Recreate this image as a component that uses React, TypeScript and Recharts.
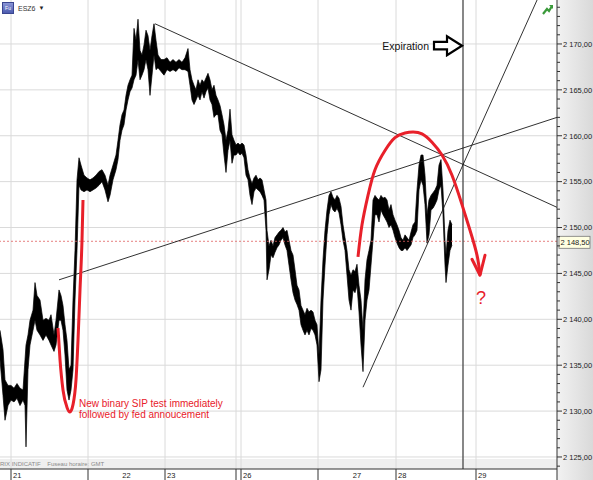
import React from 'react';
import {
  ComposedChart,
  Area,
  Line,
  XAxis,
  YAxis,
  CartesianGrid,
  ReferenceLine,
  ReferenceDot,
} from 'recharts';

const FONT = '"Liberation Sans", Arial, sans-serif';

// ---- price bars (slot index, high, low) ----
const slots = [
  0, 3, 5, 8, 11, 14, 17, 20, 23, 25,
  26, 28, 30, 33, 35, 37, 40, 43, 46, 49,
  51, 54, 56, 59, 61, 63, 65, 67, 69, 71,
  73, 75, 77, 79, 81, 84, 87, 90, 93, 96,
  99, 102, 105, 108, 110, 113, 116, 118, 120, 122,
  124, 126, 128, 130, 132, 134, 136, 138, 140, 142,
  144, 146, 148, 150, 152, 154, 156, 158, 161, 164,
  167, 170, 173, 176, 179, 182, 185, 188, 190, 192,
  194, 196, 198, 200, 202, 204, 206, 208, 210, 212,
  214, 216, 218, 220, 222, 224, 226, 228, 230, 232,
  234, 236, 238, 240, 242, 244, 246, 248, 250, 252,
  254, 256, 258, 260, 262, 264, 266, 267, 269, 271,
  273, 275, 277, 279, 281, 283, 285, 287, 289, 291,
  293, 295, 297, 299, 301, 303, 305, 307, 309, 311,
  313, 315, 317, 319, 321, 323, 325, 327, 329, 331,
  333, 335, 337, 339, 341, 343, 345, 347, 349, 351,
  353, 355, 357, 359, 361, 363, 365, 367, 369, 371,
  373, 375, 377, 379, 381, 383, 385, 387, 389, 391,
  393, 395, 397, 399, 401, 403, 405, 407, 409, 411,
  413, 415, 417, 419, 421, 423, 425, 427, 429, 431,
  433, 435, 437, 439, 441, 443, 445, 446, 448, 450, 452,
];
const highs = [
  2138.8, 2136.7, 2133.4, 2132.8, 2132.8, 2132.5, 2133.0, 2132.5, 2132.3, 2135.6,
  2137.2, 2138.3, 2139.9, 2141.0, 2144.0, 2142.6, 2142.1, 2139.9, 2140.1, 2139.9,
  2140.5, 2138.3, 2139.9, 2143.2, 2142.6, 2141.5, 2139.4, 2137.7, 2134.5, 2135.0,
  2142.1, 2147.5, 2155.2, 2157.6, 2156.8, 2155.7, 2155.4, 2155.2, 2155.4, 2155.7,
  2156.1, 2156.3, 2155.7, 2154.6, 2155.7, 2156.8, 2157.9, 2159.5, 2161.2, 2162.3,
  2162.8, 2164.4, 2165.5, 2166.1, 2166.6, 2171.7, 2170.4, 2172.7, 2169.3, 2168.8,
  2169.9, 2171.5, 2170.9, 2169.3, 2170.9, 2172.2, 2170.4, 2168.8, 2168.3, 2168.3,
  2168.5, 2168.0, 2168.3, 2168.0, 2168.3, 2168.0, 2168.5, 2169.5, 2167.2, 2166.1,
  2165.5, 2165.0, 2166.1, 2165.5, 2166.1, 2165.8, 2166.3, 2166.8, 2166.1, 2165.0,
  2165.5, 2164.4, 2163.9, 2163.3, 2162.3, 2161.2, 2159.5, 2160.6, 2162.9, 2160.1,
  2159.5, 2159.0, 2159.2, 2159.0, 2159.2, 2159.0, 2157.9, 2156.3, 2155.4, 2154.8,
  2155.4, 2155.7, 2155.2, 2155.4, 2155.2, 2154.1, 2153.0, 2149.7, 2148.0, 2148.6,
  2148.0, 2148.9, 2149.2, 2149.5, 2149.7, 2150.0, 2149.5, 2149.7, 2148.6, 2147.5,
  2147.0, 2145.4, 2143.7, 2143.2, 2141.5, 2141.0, 2140.5, 2141.2, 2140.8, 2141.0,
  2140.8, 2139.9, 2139.4, 2136.1, 2142.1, 2146.5, 2149.7, 2151.9, 2153.5, 2153.9,
  2153.3, 2153.0, 2153.5, 2153.2, 2152.3, 2150.3, 2148.9, 2147.5, 2145.4, 2144.8,
  2145.4, 2145.2, 2146.0, 2143.7, 2142.1, 2138.8, 2144.3, 2146.5, 2147.5, 2148.6,
  2153.0, 2153.5, 2153.2, 2153.0, 2153.5, 2153.2, 2153.3, 2153.0, 2151.9, 2152.5,
  2151.4, 2150.8, 2150.3, 2149.7, 2148.9, 2148.6, 2149.2, 2148.9, 2148.6, 2149.5,
  2150.3, 2150.6, 2154.1, 2156.8, 2157.9, 2157.9, 2155.7, 2151.4, 2153.0, 2153.5,
  2153.8, 2154.1, 2154.6, 2156.8, 2157.4, 2154.1, 2148.6, 2147.0, 2149.7, 2150.8, 2150.3,
];
const lows = [
  2135.6, 2131.7, 2129.0, 2130.6, 2131.2, 2131.0, 2131.4, 2130.6, 2131.2, 2130.6,
  2126.1, 2134.5, 2137.2, 2138.8, 2139.9, 2138.8, 2138.3, 2137.7, 2138.3, 2137.7,
  2137.2, 2136.5, 2137.2, 2139.9, 2139.9, 2138.8, 2136.1, 2132.3, 2131.2, 2132.3,
  2134.5, 2142.1, 2147.5, 2154.6, 2154.1, 2153.9, 2154.1, 2153.9, 2154.1, 2154.3,
  2154.6, 2155.0, 2154.1, 2152.8, 2153.5, 2155.2, 2156.3, 2157.4, 2159.5, 2160.6,
  2161.2, 2162.8, 2163.9, 2164.8, 2165.2, 2166.1, 2166.6, 2168.3, 2166.1, 2166.6,
  2167.2, 2168.3, 2167.2, 2164.4, 2166.6, 2168.8, 2167.2, 2167.4, 2167.0, 2166.6,
  2167.2, 2167.0, 2167.2, 2167.0, 2167.4, 2167.2, 2167.2, 2167.0, 2165.5, 2163.9,
  2163.4, 2163.9, 2164.4, 2163.9, 2164.8, 2164.1, 2164.8, 2165.2, 2163.9, 2163.4,
  2162.0, 2162.3, 2162.3, 2160.6, 2160.1, 2157.9, 2156.0, 2158.4, 2159.5, 2157.0,
  2157.9, 2157.9, 2158.2, 2157.9, 2158.1, 2157.6, 2155.7, 2155.2, 2153.5, 2152.5,
  2153.9, 2154.3, 2154.1, 2153.9, 2153.5, 2153.0, 2149.7, 2144.3, 2145.4, 2147.0,
  2146.7, 2147.3, 2147.8, 2148.1, 2148.6, 2148.9, 2148.1, 2147.5, 2145.9, 2144.3,
  2142.9, 2142.1, 2141.6, 2141.0, 2139.4, 2138.8, 2138.3, 2138.8, 2138.3, 2139.0,
  2138.8, 2138.3, 2137.2, 2133.2, 2134.5, 2142.1, 2145.9, 2149.2, 2151.4, 2152.5,
  2151.9, 2151.7, 2152.1, 2151.6, 2150.3, 2148.6, 2147.5, 2144.8, 2142.1, 2141.0,
  2143.2, 2142.9, 2143.7, 2140.8, 2137.2, 2134.3, 2139.9, 2142.1, 2143.2, 2145.9,
  2148.6, 2151.4, 2151.4, 2150.6, 2151.9, 2151.4, 2151.0, 2150.6, 2150.0, 2150.3,
  2149.7, 2148.9, 2148.3, 2147.8, 2147.5, 2147.5, 2147.8, 2147.5, 2147.8, 2148.1,
  2148.9, 2149.2, 2149.7, 2154.1, 2155.2, 2154.6, 2152.5, 2148.3, 2149.2, 2151.9,
  2152.1, 2152.5, 2153.0, 2154.1, 2154.6, 2151.4, 2145.9, 2144.0, 2145.9, 2147.5, 2148.1,
];

// ---- red hand-drawn annotations ----
const uCurveSlots = [58, 60, 63, 67, 70, 73, 76, 78, 80, 82, 83];
const uCurveValues = [2139.05, 2135.6, 2132.3, 2130.4, 2129.9, 2130.7, 2133.4, 2137.7, 2143.2, 2148.6, 2153.0];
const arcSlots = [358, 362, 368, 375, 385, 395, 405, 413, 422, 432, 442, 452, 462, 470, 477, 480];
const arcValues = [2146.8, 2150.3, 2153.5, 2156.3, 2158.4, 2159.8, 2160.3, 2160.4, 2160.2, 2159.3, 2157.9, 2155.7, 2152.5, 2149.7, 2147.0, 2144.8];

// ---- trend lines ----
const trendLines = [
  [{ x: 155, y: 2172.2 }, { x: 557, y: 2152.2 }],
  [{ x: 59, y: 2144.3 }, { x: 557, y: 2162.0 }],
  [{ x: 363, y: 2132.6 }, { x: 540, y: 2175.5 }],
];

// ---- axes ----
const Y_MIN = 2123.69;
const Y_MAX = 2174.79;
const yTicks: number[] = [];
for (let v = 2124; v <= 2174; v++) yTicks.push(v);
const yGrid = [2125, 2130, 2135, 2140, 2145, 2150, 2155, 2160, 2165, 2170];
const lastPrice = 2148.5;
const expirationSlot = 463;

const sepSlots = [11, 88, 165, 236, 241, 318, 396, 476, 557];
const gridSlots = [11, 88, 165, 236, 241, 318, 396, 476];
const dayLabels = ['21', '22', '23', '26', '27', '28', '29'];
const dayLabelSlots = [11, 126.5, 165, 241, 357, 396, 476];
const dayLabelAlign = ['start', 'middle', 'start', 'start', 'middle', 'start', 'start'];
const xTicks = Array.from(new Set([...sepSlots, ...dayLabelSlots])).sort((a, b) => a - b);

const priceData = slots.map((t, i) => ({ t, range: [lows[i], highs[i]] }));
const uData = uCurveSlots.map((t, i) => ({ t, v: uCurveValues[i] }));
const arcData = arcSlots.map((t, i) => ({ t, v: arcValues[i] }));

const fmtPrice = (v: number) => {
  const s = v.toFixed(2).replace('.', ',');
  return s.slice(0, 1) + ' ' + s.slice(1);
};

const YTick = (props: any) => {
  const { x, y, payload } = props;
  const v = payload.value;
  const major = Math.round(v) % 5 === 0;
  return (
    <g>
      <line x1={x} x2={x + (major ? 5 : 3)} y1={y} y2={y} stroke="#333" strokeWidth={1} />
      {major && (
        <text x={x + 6} y={y + 2.8} fontSize={7.5} fontFamily={FONT} fill="#222">
          {fmtPrice(v)}
        </text>
      )}
    </g>
  );
};

const XTick = (props: any) => {
  const { x, y, payload } = props;
  const v = payload.value;
  const isSep = sepSlots.includes(v);
  const li = dayLabelSlots.indexOf(v);
  return (
    <g>
      {isSep && <line x1={x} x2={x} y1={y} y2={y + 11} stroke="#333" strokeWidth={1} />}
      {li >= 0 && (
        <text
          x={dayLabelAlign[li] === 'start' ? x + 2 : x}
          y={y + 8.5}
          textAnchor={dayLabelAlign[li] as any}
          fontSize={7.5}
          fontFamily={FONT}
          fill="#222"
        >
          {dayLabels[li]}
        </text>
      )}
    </g>
  );
};

const ExpirationShape = (p: any) => {
  const { cx, cy } = p;
  return (
    <g>
      <text x={cx - 33} y={cy + 4} textAnchor="end" fontSize={10.5} fontFamily={FONT} fill="#111">
        Expiration
      </text>
      <path
        d={`M${cx},${cy} L${cx - 15},${cy - 9.5} L${cx - 15},${cy - 4} L${cx - 28},${cy - 4} L${cx - 28},${cy + 3.5} L${cx - 15},${cy + 3.5} L${cx - 15},${cy + 9.5} Z`}
        fill="#fff"
        stroke="#000"
        strokeWidth={2.2}
      />
    </g>
  );
};

const ArrowHeadShape = (p: any) => {
  const { cx, cy } = p;
  return (
    <path
      d={`M${cx - 8},${cy - 16} L${cx},${cy} L${cx + 5},${cy - 20}`}
      fill="none"
      stroke="#e8202a"
      strokeWidth={3}
      strokeLinecap="round"
      strokeLinejoin="round"
    />
  );
};

const QuestionShape = (p: any) => (
  <text x={p.cx} y={p.cy + 7} textAnchor="middle" fontSize={18} fontFamily={FONT} fill="#e8202a">
    ?
  </text>
);

const NoteShape = (p: any) => (
  <g fontFamily={FONT} fontSize={10} fill="#e8202a">
    <text x={p.cx} y={p.cy + 3.5}>New binary SIP test immediately</text>
    <text x={p.cx} y={p.cy + 14}>followed by fed annoucement</text>
  </g>
);

const PriceTagShape = (p: any) => {
  const { cx, cy } = p;
  return (
    <g>
      <rect x={cx + 2} y={cy - 5} width={31} height={12} fill="#ffffe1" stroke="#777" strokeWidth={0.8} />
      <text x={cx + 3.5} y={cy + 4} fontSize={7.5} fontFamily={FONT} fill="#222">
        {fmtPrice(lastPrice)}
      </text>
    </g>
  );
};

export default function App() {
  return (
    <div style={{ position: 'relative', width: 593, height: 480, overflow: 'hidden', background: '#fff' }}>
      <style>{'body{margin:0}'}</style>
      {/* right axis gradient */}
      <div
        style={{
          position: 'absolute',
          left: 557,
          top: 0,
          width: 36,
          height: 480,
          background: 'linear-gradient(to right, #f2f2f2, #d9d9d9)',
        }}
      />
      {/* bottom info band */}
      <div style={{ position: 'absolute', left: 0, top: 459, width: 557, height: 10, background: '#efefef' }} />
      <div
        style={{
          position: 'absolute',
          left: 0,
          top: 460,
          fontSize: 6,
          fontFamily: FONT,
          color: '#8a8a8a',
          whiteSpace: 'pre',
          lineHeight: '8px',
        }}
      >
        {'RIX INDICATIF    Fuseau horaire: GMT'}
      </div>
      <div style={{ position: 'absolute', left: 0, top: 469, width: 557, height: 11, background: '#fff' }} />
      <div style={{ position: 'absolute', left: 0, top: 0 }}>
        <ComposedChart
          width={593}
          height={480}
          data={priceData}
          margin={{ top: 0, right: 0, bottom: 0, left: 0 }}
        >
          <CartesianGrid
            stroke="#dadada"
            strokeWidth={1}
            horizontalValues={yGrid}
            verticalValues={gridSlots}
          />
          <XAxis
            type="number"
            dataKey="t"
            domain={[0, 557]}
            allowDataOverflow
            ticks={xTicks}
            interval={0}
            tickSize={0}
            tickMargin={0}
            tickLine={false}
            height={11}
            axisLine={{ stroke: '#333', strokeWidth: 1.2 }}
            tick={<XTick />}
          />
          <YAxis
            type="number"
            orientation="right"
            domain={[Y_MIN, Y_MAX]}
            allowDataOverflow
            ticks={yTicks}
            interval={0}
            tickSize={0}
            tickMargin={0}
            tickLine={false}
            width={36}
            axisLine={{ stroke: '#333', strokeWidth: 1 }}
            tick={<YTick />}
          />
          <ReferenceLine y={lastPrice} stroke="#e06060" strokeWidth={0.8} strokeDasharray="2 2" />
          <ReferenceLine x={expirationSlot} stroke="#555" strokeWidth={1.4} />
          {trendLines.map((seg, i) => (
            <ReferenceLine key={i} segment={seg} stroke="#1a1a1a" strokeWidth={0.9} ifOverflow="visible" />
          ))}
          <Area
            type="linear"
            dataKey="range"
            stroke="#000"
            strokeWidth={0.7}
            fill="#000"
            fillOpacity={1}
            isAnimationActive={false}
            dot={false}
            activeDot={false}
          />
          <Line
            data={uData}
            dataKey="v"
            type="monotone"
            stroke="#e8202a"
            strokeWidth={3}
            dot={false}
            activeDot={false}
            isAnimationActive={false}
          />
          <Line
            data={arcData}
            dataKey="v"
            type="natural"
            stroke="#e8202a"
            strokeWidth={3}
            dot={false}
            activeDot={false}
            isAnimationActive={false}
          />
          <ReferenceDot x={480} y={2144.8} shape={<ArrowHeadShape />} />
          <ReferenceDot x={481} y={2142.4} shape={<QuestionShape />} />
          <ReferenceDot x={79} y={2130.8} shape={<NoteShape />} />
          <ReferenceDot x={462} y={2169.8} shape={<ExpirationShape />} />
          <ReferenceDot x={557} y={lastPrice} shape={<PriceTagShape />} ifOverflow="visible" />
        </ComposedChart>
      </div>
      {/* top-left instrument legend */}
      <div style={{ position: 'absolute', left: 2, top: 2, display: 'flex', alignItems: 'center', fontFamily: FONT }}>
        <div
          style={{
            width: 10,
            height: 10,
            background: 'linear-gradient(#8a95d6, #4d5cb0)',
            border: '1px solid #3a4690',
            color: '#fff',
            fontSize: 5,
            lineHeight: '10px',
            textAlign: 'center',
          }}
        >
          Fu
        </div>
        <span style={{ fontSize: 7, color: '#333', marginLeft: 4 }}>ESZ6</span>
        <span style={{ fontSize: 6, color: '#222', marginLeft: 3 }}>▼</span>
      </div>
      <svg style={{ position: 'absolute', left: 542, top: 3 }} width={12} height={12}>
        <path d="M1,11 L5,6 L7,8 L10,3" stroke="#3a9a3a" strokeWidth={2.2} fill="none" />
        <path d="M7,2 L11,2 L11,6 Z" fill="#3a9a3a" />
      </svg>
    </div>
  );
}
